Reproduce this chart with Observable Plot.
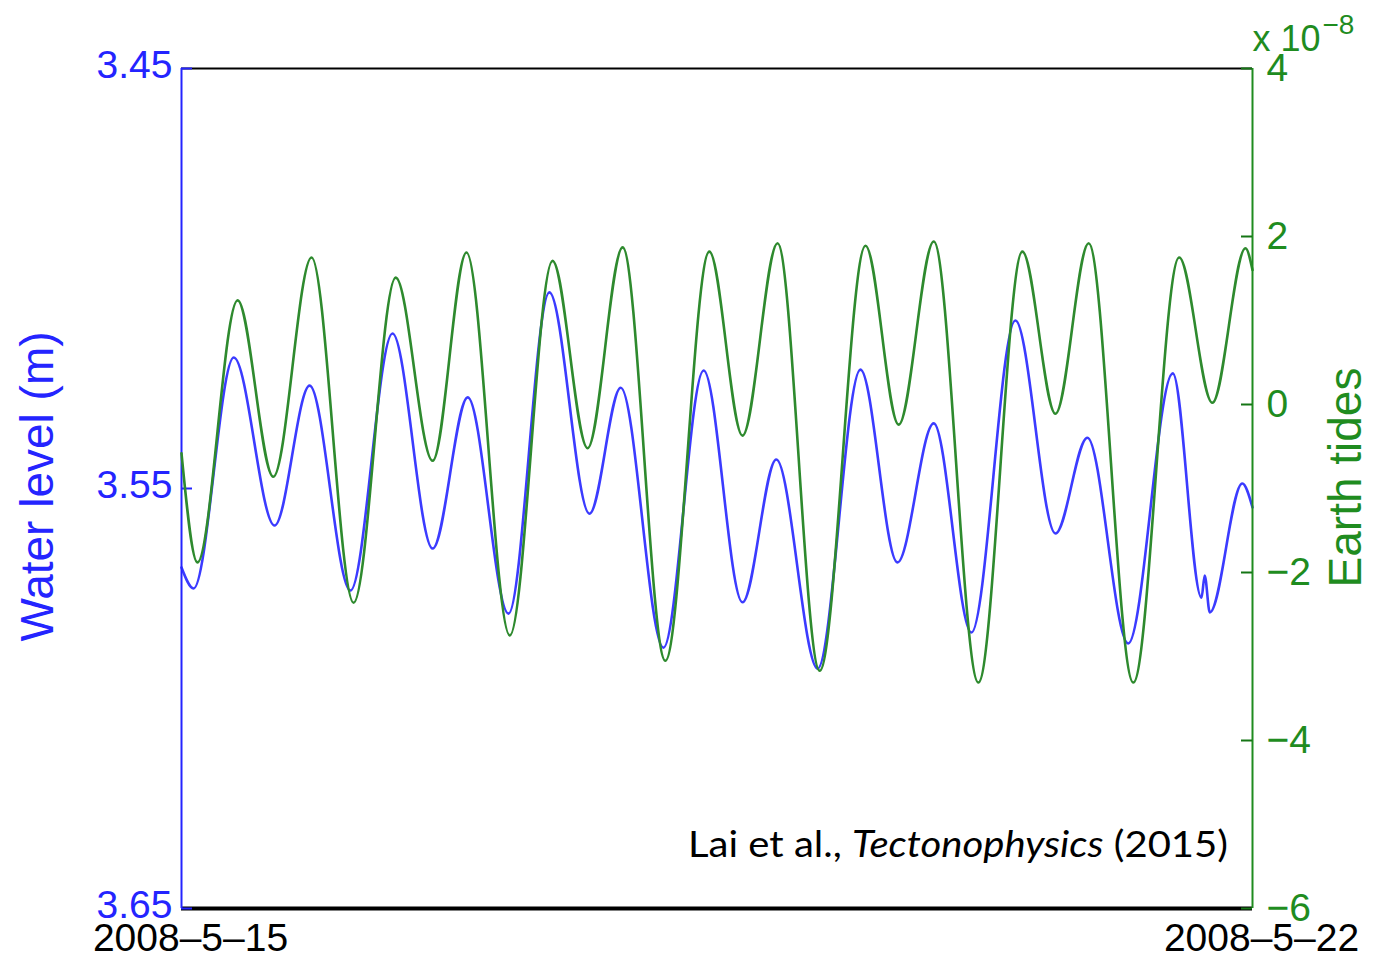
<!DOCTYPE html>
<html>
<head>
<meta charset="utf-8">
<script src="https://cdn.jsdelivr.net/npm/d3@7"></script>
<script src="https://cdn.jsdelivr.net/npm/@observablehq/plot@0.6"></script>
<style>
  html, body { margin: 0; padding: 0; background: #fff; }
  #wrap { position: relative; width: 1374px; height: 963px; }
  #wrap svg { position: absolute; left: 0; top: 0; }
</style>
</head>
<body>
<div id="wrap"></div>
<script>
// ---- data ----
const startISO = "2008-05-15T00:00:00Z";
const endISO = "2008-05-22T00:00:00Z";

// Earth tides (×10^-8), hours since 2008-5-15 00:00
const tideHours = [0, 2.5, 8.8, 14.4, 20.4, 27.0, 33.6, 39.4, 44.7, 51.5, 58.2, 63.7, 69.2, 75.9, 82.8, 88.0, 93.5, 100.1, 107.3, 112.5, 118.0, 125.0, 131.9, 137.1, 142.3, 149.3, 156.5, 161.7, 166.9, 168];
const tideValues = [-0.58, -1.88, 1.24, -0.86, 1.75, -2.36, 1.51, -0.67, 1.81, -2.75, 1.71, -0.52, 1.87, -3.05, 1.82, -0.37, 1.92, -3.17, 1.89, -0.24, 1.94, -3.31, 1.82, -0.11, 1.92, -3.31, 1.75, 0.02, 1.86, 1.60];

// Water level (m, depth), hours since 2008-5-15 00:00
const levelHours = [0, 1.9, 8.2, 14.6, 20.1, 26.5, 33.1, 39.4, 44.9, 51.3, 57.7, 64.0, 68.9, 75.6, 81.9, 88.0, 93.3, 99.8, 106.5, 112.3, 118.0, 123.9, 130.8, 137.1, 142.1, 148.5, 155.5, 160.0, 160.5, 161.3, 166.4, 168];
const levelValues = [3.5688, 3.5738, 3.5188, 3.5588, 3.5255, 3.5743, 3.5131, 3.5643, 3.5283, 3.5798, 3.5033, 3.5560, 3.5260, 3.5879, 3.5219, 3.5771, 3.5431, 3.5929, 3.5217, 3.5676, 3.5345, 3.5843, 3.5100, 3.5607, 3.5379, 3.5869, 3.5226, 3.5760, 3.5707, 3.5795, 3.5488, 3.5545];

const levelTicks = [3.45, 3.55, 3.65];
const tideTicks = [-6, -4, -2, 0, 2, 4];
const dateTickLabels = ["2008–5–15", "2008–5–22"];

// ---- build ----
const start = new Date(startISO);
const end = new Date(endISO);
const toDate = h => new Date(start.getTime() + h * 3600e3);
const tides = tideHours.map((h, i) => ({t: toDate(h), v: tideValues[i]}));
const level = levelHours.map((h, i) => ({t: toDate(h), v: levelValues[i]}));

const W = 1374, H = 963;
const margins = {marginLeft: 181, marginRight: 122, marginTop: 68, marginBottom: 55};
const BLUE = "#2424ff", BLUE_LINE = "#3b3bff";
const GREEN = "#1f8c1f", GREEN_LINE = "#2e8a2e";
const font = "'Liberation Sans', Arial, Helvetica, sans-serif";
const inner = W - margins.marginLeft - margins.marginRight;

const plotA = Plot.plot({
  width: W, height: H, ...margins,
  style: {fontFamily: font, background: "white", overflow: "visible"},
  x: {type: "utc", domain: [start, end]},
  y: {domain: [3.45, 3.65], reverse: true},
  marks: [
    Plot.line(level, {x: "t", y: "v", stroke: BLUE_LINE, strokeWidth: 2.6, curve: "monotone-x"}),
    Plot.ruleY([3.45], {stroke: "black", strokeWidth: 2}),
    Plot.ruleY([3.65], {stroke: "black", strokeWidth: 4}),
    Plot.ruleX([start], {stroke: BLUE, strokeWidth: 2}),
    Plot.tickY(levelTicks, {y: d => d, stroke: BLUE, strokeWidth: 2, insetRight: inner - 11}),
    Plot.axisY({ticks: levelTicks, tickFormat: d3.format(".2f"), tickSize: 0, tickPadding: 9, fontSize: 39, fill: BLUE, dy: -3, label: null}),
    Plot.axisX({ticks: [start, end], tickFormat: (d, i) => dateTickLabels[i], tickSize: 0, tickPadding: 15, fontSize: 39, fill: "black", dx: 9, label: null}),
    Plot.text(["Water level (m)"], {frameAnchor: "left", textAnchor: "middle", rotate: -90, dx: -143, dy: -2, fontSize: 46, fill: BLUE})
  ]
});

const plotB = Plot.plot({
  width: W, height: H, ...margins,
  style: {fontFamily: font, background: "transparent", overflow: "visible"},
  x: {type: "utc", domain: [start, end], axis: null},
  y: {domain: [-6, 4], axis: null},
  marks: [
    Plot.line(tides, {x: "t", y: "v", stroke: GREEN_LINE, strokeWidth: 2.6, curve: "monotone-x"}),
    Plot.ruleX([end], {stroke: GREEN, strokeWidth: 2}),
    Plot.tickY(tideTicks, {y: d => d, stroke: "#157515", strokeWidth: 2, insetLeft: inner - 11}),
    Plot.axisY({anchor: "right", ticks: tideTicks, tickFormat: d => d < 0 ? "\u2212" + Math.abs(d) : String(d), tickSize: 0, tickPadding: 14, fontSize: 39, fill: GREEN, label: null}),
    Plot.text(["Earth tides"], {frameAnchor: "right", textAnchor: "middle", rotate: -90, dx: 94, dy: -11, fontSize: 46, fill: GREEN}),
    Plot.text(["x 10"], {frameAnchor: "top-right", textAnchor: "start", lineAnchor: "bottom", dy: -18, dx: 0, fontSize: 36, fill: GREEN}),
    Plot.text(["\u22128"], {frameAnchor: "top-right", textAnchor: "start", lineAnchor: "bottom", dy: -35, dx: 70, fontSize: 28, fill: GREEN})
  ]
});

const wrap = document.getElementById("wrap");
wrap.appendChild(plotA);
wrap.appendChild(plotB);

// citation annotation
const note = d3.select(plotB).append("text")
  .attr("x", 1228).attr("y", 857)
  .attr("text-anchor", "end")
  .attr("font-family", "Lato, 'Open Sans', sans-serif")
  .attr("font-size", 37)
  .attr("fill", "black")
  .attr("textLength", 540)
  .attr("lengthAdjust", "spacingAndGlyphs");
note.append("tspan").text("Lai et al., ");
note.append("tspan").attr("font-style", "italic").text("Tectonophysics");
note.append("tspan").text(" (2015)");
</script>
</body>
</html>
